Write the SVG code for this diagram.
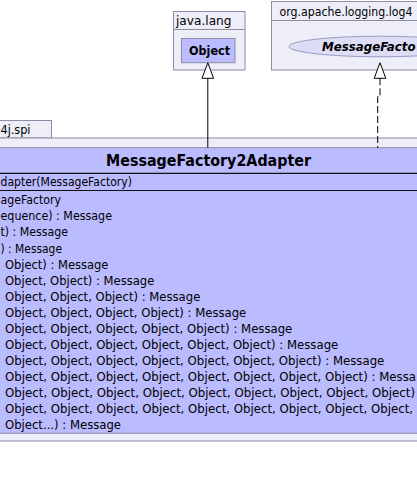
<svg xmlns="http://www.w3.org/2000/svg" width="417" height="479" viewBox="0 0 417 479">
<style>
.pkg{fill:#EEEEF9;stroke:#8C8CA6;stroke-width:1}
.cls{fill:#BBBBFF;stroke:#8C8CA6;stroke-width:1}
.sep{stroke:#111;stroke-width:1.2}
.t{font-family:"DejaVu Sans",sans-serif;font-size:11.7px;fill:#000}
.pt{font-family:"DejaVu Sans",sans-serif;font-size:12px;fill:#000}
.b{font-family:"DejaVu Sans",sans-serif;font-weight:bold;fill:#000}
.edge{fill:none;stroke:#000;stroke-width:1}
.head{fill:#FFFFFF;stroke:#000;stroke-width:1}
</style>
<rect width="417" height="479" fill="#FFFFFF"/>
<g id="pkg-java-lang">
<rect class="pkg" x="173.5" y="11.5" width="71.5" height="58.5"/>
<line x1="173.5" y1="29.5" x2="245" y2="29.5" stroke="#8C8CA6"/>
<text class="pt" x="176" y="24.5" textLength="55.5" lengthAdjust="spacingAndGlyphs">java.lang</text>
</g>
<g id="node-Object">
<rect class="cls" x="181.5" y="38.5" width="53.5" height="24.2" stroke="#7A7AB8"/>
<text class="b" x="189" y="54.5" font-size="12" textLength="41" lengthAdjust="spacingAndGlyphs">Object</text>
</g>
<g id="pkg-message">
<rect class="pkg" x="271.5" y="1.5" width="160" height="68.5"/>
<line x1="271.5" y1="20.5" x2="431.5" y2="20.5" stroke="#8C8CA6"/>
<text class="pt" x="279.5" y="16" textLength="133" lengthAdjust="spacingAndGlyphs">org.apache.logging.log4</text>
</g>
<g id="node-MessageFactory">
<ellipse cx="380" cy="46.5" rx="91" ry="10.3" fill="#DDDDF6" stroke="#9A9AC6"/>
<text class="b" x="322" y="50.5" font-size="12" font-style="italic" textLength="93.5" lengthAdjust="spacingAndGlyphs">MessageFacto</text>
</g>
<g id="pkg-spi">
<rect class="pkg" x="-5" y="120.5" width="56.5" height="17.5"/>
<rect class="pkg" x="-5" y="138" width="430" height="303"/>
<text class="pt" x="0.5" y="134" textLength="30" lengthAdjust="spacingAndGlyphs">4j.spi</text>
</g>
<g id="node-MessageFactory2Adapter">
<rect class="cls" x="-5" y="147.7" width="430" height="285.6"/>
<line class="sep" x1="-5" y1="173.3" x2="425" y2="173.3"/>
<line class="sep" x1="-5" y1="190.5" x2="425" y2="190.5"/>
<text class="b" x="208.5" y="165.7" font-size="15.5" text-anchor="middle" textLength="205" lengthAdjust="spacingAndGlyphs">MessageFactory2Adapter</text>
<text class="t" x="0.5" y="185.5" textLength="131.5" lengthAdjust="spacingAndGlyphs">dapter(MessageFactory)</text>
<text class="t" x="0.5" y="204.3" textLength="60.5" lengthAdjust="spacingAndGlyphs">ageFactory</text>
<text class="t" x="0.5" y="220.4" textLength="111.5" lengthAdjust="spacingAndGlyphs">equence) : Message</text>
<text class="t" x="0.5" y="236.4" textLength="67.5" lengthAdjust="spacingAndGlyphs">t) : Message</text>
<text class="t" x="0.5" y="252.5" textLength="61.5" lengthAdjust="spacingAndGlyphs">) : Message</text>
<text class="t" x="5" y="268.6" textLength="103.3" lengthAdjust="spacingAndGlyphs">Object) : Message</text>
<text class="t" x="5" y="284.6" textLength="149.3" lengthAdjust="spacingAndGlyphs">Object, Object) : Message</text>
<text class="t" x="5" y="300.7" textLength="195.3" lengthAdjust="spacingAndGlyphs">Object, Object, Object) : Message</text>
<text class="t" x="5" y="316.8" textLength="241.3" lengthAdjust="spacingAndGlyphs">Object, Object, Object, Object) : Message</text>
<text class="t" x="5" y="332.9" textLength="287.3" lengthAdjust="spacingAndGlyphs">Object, Object, Object, Object, Object) : Message</text>
<text class="t" x="5" y="348.9" textLength="333.3" lengthAdjust="spacingAndGlyphs">Object, Object, Object, Object, Object, Object) : Message</text>
<text class="t" x="5" y="365" textLength="379.3" lengthAdjust="spacingAndGlyphs">Object, Object, Object, Object, Object, Object, Object) : Message</text>
<text class="t" x="5" y="381.1" textLength="411" lengthAdjust="spacingAndGlyphs">Object, Object, Object, Object, Object, Object, Object, Object) : Messa</text>
<text class="t" x="5" y="397.1" textLength="410" lengthAdjust="spacingAndGlyphs">Object, Object, Object, Object, Object, Object, Object, Object, Object)</text>
<text class="t" x="5" y="413.2" textLength="408" lengthAdjust="spacingAndGlyphs">Object, Object, Object, Object, Object, Object, Object, Object, Object,</text>
<text class="t" x="5" y="429.3" textLength="116" lengthAdjust="spacingAndGlyphs">Object...) : Message</text>
</g>
<g id="connectors">
<line class="edge" x1="207.8" y1="78.3" x2="207.8" y2="147.7"/>
<polygon class="head" points="207.8,62.8 202,78.3 213.6,78.3"/>
<polyline class="edge" points="380,78.3 380,96.5 377.7,96.5 377.7,147.7" stroke-dasharray="7,3"/>
<polygon class="head" points="380,62.8 374.2,78.3 385.8,78.3"/>
</g>
</svg>
